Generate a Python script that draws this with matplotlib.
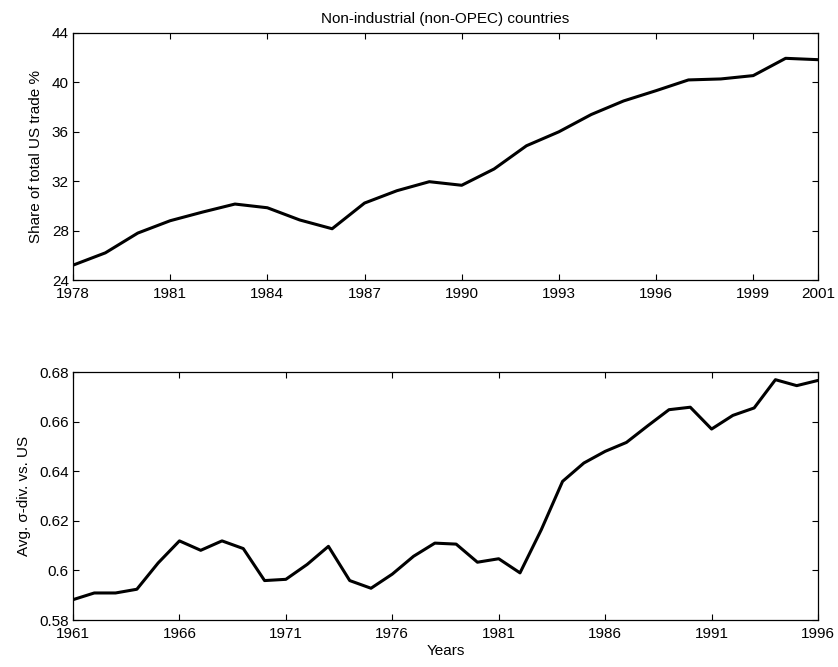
import matplotlib
matplotlib.use("Agg")
import matplotlib.pyplot as plt

plt.rcParams['font.family'] = ['Liberation Sans', 'DejaVu Sans']

# Top panel: share of total US trade (%)
years_top = list(range(1978, 2002))
share = [25.2, 26.2, 27.8, 28.8, 29.5, 30.15, 29.85, 28.86, 28.15, 30.23, 31.23,
         31.96, 31.67, 32.99, 34.87, 36.0, 37.4, 38.5, 39.33, 40.2, 40.28, 40.55,
         41.95, 41.84]
top_xticks = [1978, 1981, 1984, 1987, 1990, 1993, 1996, 1999, 2001]
top_yticks = [24, 28, 32, 36, 40, 44]

# Bottom panel: average sigma-divergence vs. US
years_bot = list(range(1961, 1997))
sigma_div = [0.5882, 0.5909, 0.5909, 0.5924, 0.6030, 0.6119, 0.6081, 0.6119,
             0.6088, 0.5959, 0.5964, 0.6024, 0.6097, 0.5959, 0.5928, 0.5985,
             0.6057, 0.6110, 0.6106, 0.6033, 0.6047, 0.5990, 0.6164, 0.6359,
             0.6433, 0.6480, 0.6516, 0.6583, 0.6648, 0.6658, 0.6570, 0.6625,
             0.6655, 0.6769, 0.6745, 0.6766]
bot_xticks = [1961, 1966, 1971, 1976, 1981, 1986, 1991, 1996]
bot_yticks = [0.58, 0.60, 0.62, 0.64, 0.66, 0.68]
bot_yticklabels = ['0.58', '0.6', '0.62', '0.64', '0.66', '0.68']

W, H = 838, 667
fig = plt.figure(figsize=(W / 100, H / 100), dpi=100)

def ax_rect(l, t, r, b):
    return [l / W, 1 - b / H, (r - l) / W, (b - t) / H]

ax1 = fig.add_axes(ax_rect(73, 33, 818, 280))
ax2 = fig.add_axes(ax_rect(73, 372, 818, 620))

FS = 11
for ax in (ax1, ax2):
    ax.tick_params(direction='in', top=True, right=True, length=4.3, width=0.8,
                   labelsize=FS, colors='black')
    ax.tick_params(axis='x', pad=5)
    ax.tick_params(axis='y', pad=3)
    for s in ax.spines.values():
        s.set_linewidth(0.9)

ax1.plot(years_top, share, color='black', lw=2.2)
ax1.set_xlim(1978, 2001)
ax1.set_ylim(24, 44)
ax1.set_xticks(top_xticks)
ax1.set_yticks(top_yticks)
ax1.set_ylabel('Share of total US trade %', fontsize=FS, labelpad=6)
ax1.set_title('Non-industrial (non-OPEC) countries', fontsize=FS, pad=7)

ax2.plot(years_bot, sigma_div, color='black', lw=2.2)
ax2.set_xlim(1961, 1996)
ax2.set_ylim(0.58, 0.68)
ax2.set_xticks(bot_xticks)
ax2.set_yticks(bot_yticks)
ax2.set_yticklabels(bot_yticklabels)
ax2.set_ylabel('Avg. σ-div. vs. US', fontsize=FS, labelpad=6)
ax2.set_xlabel('Years', fontsize=FS, labelpad=2)

fig.savefig('out.png', dpi=100)
